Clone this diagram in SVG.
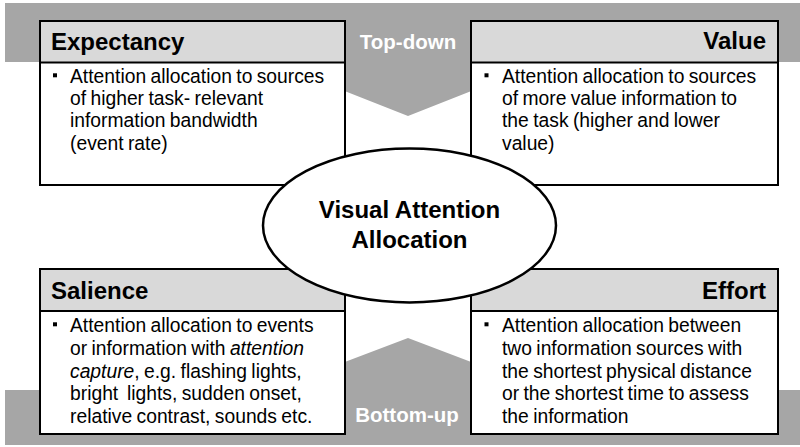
<svg xmlns="http://www.w3.org/2000/svg" width="800" height="447" viewBox="0 0 800 447">
<style>
.band{fill:#a6a6a6}
.box{fill:#fff;stroke:#000;stroke-width:2}
.hdr{fill:#d9d9d9;stroke:#000;stroke-width:2}
.title{font-family:"Liberation Sans",Arial,sans-serif;font-weight:bold;font-size:24px;fill:#000}
.body{font-family:"Liberation Sans",Arial,sans-serif;font-size:19.3px;fill:#000;word-spacing:-1px}
.lbl{font-family:"Liberation Sans",Arial,sans-serif;font-weight:bold;font-size:20.5px;fill:#fff}
.center{font-family:"Liberation Sans",Arial,sans-serif;font-weight:bold;font-size:24px;fill:#000}
.bul{fill:#000}
</style>
<rect width="800" height="447" fill="#fff"/>
<g id="top-down">
<polygon class="band" points="5,3 800,3 800,62 545,62 408,116 271,62 5,62"/>
<text class="lbl" x="408" y="49" text-anchor="middle">Top-down</text>
</g>
<g id="bottom-up">
<polygon class="band" points="5,390 271,390 408,338 545,390 800,390 800,445 5,445"/>
<text class="lbl" x="407" y="422" text-anchor="middle">Bottom-up</text>
</g>
<g id="expectancy">
<rect class="box" x="40" y="21" width="305" height="164"/>
<rect class="hdr" x="40" y="21" width="305" height="41.5"/>
<text class="title" x="51" y="49.5">Expectancy</text>
<rect class="bul" x="53" y="73.3" width="4" height="4"/>
<text class="body"><tspan x="70" y="82.7">Attention allocation to sources</tspan><tspan x="70" y="105">of higher task- relevant</tspan><tspan x="70" y="127.4">information bandwidth</tspan><tspan x="70" y="149.8">(event rate)</tspan></text>
</g>
<g id="value">
<rect class="box" x="471" y="21" width="307" height="164"/>
<rect class="hdr" x="471" y="21" width="307" height="41.5"/>
<text class="title" x="766" y="48.5" text-anchor="end">Value</text>
<rect class="bul" x="484.5" y="73.3" width="4" height="4"/>
<text class="body"><tspan x="502" y="82.7">Attention allocation to sources</tspan><tspan x="502" y="105">of more value information to</tspan><tspan x="502" y="127.4">the task (higher and lower</tspan><tspan x="502" y="149.8">value)</tspan></text>
</g>
<g id="salience">
<rect class="box" x="40" y="269" width="305" height="165"/>
<rect class="hdr" x="40" y="269" width="305" height="42"/>
<text class="title" x="51" y="299">Salience</text>
<rect class="bul" x="53" y="322.3" width="4" height="4"/>
<text class="body"><tspan x="70" y="331.7">Attention allocation to events</tspan><tspan x="70" y="354.6">or information with <tspan font-style="italic">attention</tspan></tspan><tspan x="70" y="377.5"><tspan font-style="italic">capture</tspan>, e.g. flashing lights,</tspan><tspan x="70" y="400.4">bright&#160; lights, sudden onset,</tspan><tspan x="70" y="423.3">relative contrast, sounds etc.</tspan></text>
</g>
<g id="effort">
<rect class="box" x="471" y="269" width="307" height="165"/>
<rect class="hdr" x="471" y="269" width="307" height="42"/>
<text class="title" x="766" y="299" text-anchor="end">Effort</text>
<rect class="bul" x="484.5" y="322.3" width="4" height="4"/>
<text class="body"><tspan x="502" y="331.7">Attention allocation between</tspan><tspan x="502" y="354.6">two information sources with</tspan><tspan x="502" y="377.5">the shortest physical distance</tspan><tspan x="502" y="400.4">or the shortest time to assess</tspan><tspan x="502" y="423.3">the information</tspan></text>
</g>
<g id="connectors"></g>
<g id="visual-attention">
<ellipse cx="409.5" cy="225.5" rx="146.5" ry="77" fill="#fff" stroke="#000" stroke-width="2.5"/>
<text class="center" x="409.5" y="218.3" text-anchor="middle">Visual Attention</text>
<text class="center" x="409.5" y="248.3" text-anchor="middle">Allocation</text>
</g>
</svg>
